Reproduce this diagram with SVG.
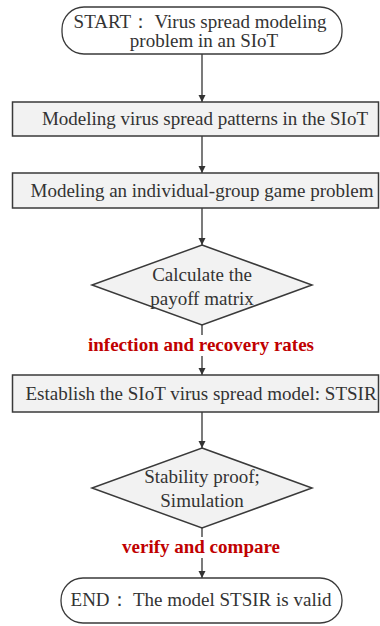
<svg xmlns="http://www.w3.org/2000/svg" width="380" height="626" viewBox="0 0 380 626">
<style>
.box{fill:#f2f2f2;stroke:#3a3a3a;stroke-width:1.5}
.term{fill:#ffffff;stroke:#3a3a3a;stroke-width:1.3}
.t{font-family:"Liberation Serif","Times New Roman",serif;font-size:19px;fill:#333;text-anchor:middle}
.lab{font-family:"Liberation Serif","Times New Roman",serif;font-size:19px;font-weight:bold;fill:#c00000;text-anchor:middle}
.c{stroke:#333;stroke-width:1.3;fill:none;marker-end:url(#ah)}
</style>
<defs>
<marker id="ah" viewBox="0 0 10 10" refX="10" refY="5" markerWidth="7" markerHeight="8" markerUnits="userSpaceOnUse" orient="auto">
<path d="M0,0 L10,5 L0,10 z" fill="#333"/>
</marker>
</defs>
<rect width="380" height="626" fill="#fff"/>
<g id="connectors">
<line class="c" x1="202" y1="54" x2="202" y2="102"/>
<line class="c" x1="202" y1="136" x2="202" y2="173"/>
<line class="c" x1="202" y1="208" x2="202" y2="245"/>
<line class="c" x1="202" y1="325" x2="202" y2="375"/>
<line class="c" x1="202" y1="412" x2="202" y2="448"/>
<line class="c" x1="202" y1="528" x2="202" y2="578"/>
</g>
<g id="start">
<rect class="term" x="62" y="7" width="280" height="47" rx="22" ry="22"/>
<text class="t" x="200" y="28">START： Virus spread modeling</text>
<text class="t" x="204" y="47">problem in an SIoT</text>
</g>
<g id="box1">
<rect class="box" x="12.5" y="102" width="366" height="34"/>
<text class="t" x="205" y="125">Modeling virus spread patterns in the SIoT</text>
</g>
<g id="box2">
<rect class="box" x="12.5" y="173" width="366" height="35"/>
<text class="t" x="202" y="197">Modeling an individual-group game problem</text>
</g>
<g id="diamond1">
<polygon class="box" points="202,245 312,285 202,325 92,285"/>
<text class="t" x="202" y="281">Calculate the</text>
<text class="t" x="202" y="305">payoff matrix</text>
</g>
<g id="label1">
<rect x="86" y="335" width="232" height="21" fill="#fff"/>
<text class="lab" x="201" y="351">infection and recovery rates</text>
</g>
<g id="box3">
<rect class="box" x="12.5" y="375" width="366" height="37"/>
<text class="t" x="201" y="400">Establish the SIoT virus spread model: STSIR</text>
</g>
<g id="diamond2">
<polygon class="box" points="202,448 312,488 202,528 92,488"/>
<text class="t" x="202" y="483">Stability proof;</text>
<text class="t" x="202" y="507">Simulation</text>
</g>
<g id="label2">
<rect x="118" y="537" width="166" height="21" fill="#fff"/>
<text class="lab" x="201" y="553">verify and compare</text>
</g>
<g id="end">
<rect class="term" x="61" y="578" width="281" height="45" rx="22" ry="22"/>
<text class="t" x="201" y="606">END： The model STSIR is valid</text>
</g>
</svg>
